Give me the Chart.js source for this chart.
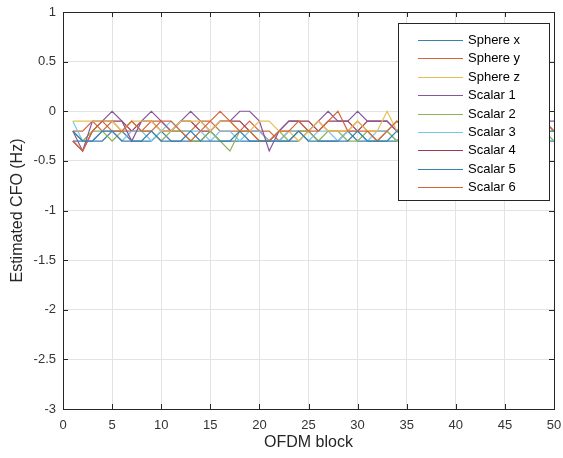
<!DOCTYPE html>
<html>
<head>
<meta charset="utf-8">
<script src="https://cdn.jsdelivr.net/npm/chart.js@4"></script>
<style>
  html, body { margin: 0; padding: 0; background: #fff; }
  #wrap { width: 563px; height: 458px; }
</style>
</head>
<body>
<div id="wrap"><canvas id="chart" width="563" height="458"></canvas></div>
<script>
// x positions: OFDM blocks 1..50
const blocks = [1,2,3,4,5,6,7,8,9,10,11,12,13,14,15,16,17,18,19,20,21,22,23,24,25,
  26,27,28,29,30,31,32,33,34,35,36,37,38,39,40,41,42,43,44,45,46,47,48,49,50];

const seriesNames = ["Sphere x", "Sphere y", "Sphere z", "Scalar 1", "Scalar 2",
  "Scalar 3", "Scalar 4", "Scalar 5", "Scalar 6"];

const sphereX = [-0.2,-0.3,-0.3,-0.2,-0.2,-0.3,-0.3,-0.3,-0.2,-0.3,-0.3,-0.3,-0.2,-0.3,-0.3,-0.3,-0.3,-0.2,-0.3,-0.3,
  -0.3,-0.3,-0.3,-0.2,-0.3,-0.3,-0.3,-0.3,-0.3,-0.2,-0.3,-0.3,-0.3,-0.2,-0.3,-0.3,-0.2,-0.3,-0.3,-0.3,
  -0.2,-0.3,-0.3,-0.3,-0.2,-0.3,-0.3,-0.3,-0.2,-0.2];
const sphereY = [-0.3,-0.4,-0.2,-0.1,-0.2,-0.2,-0.1,-0.2,-0.2,-0.1,-0.1,-0.2,-0.3,-0.2,-0.1,0,-0.1,-0.2,-0.2,-0.3,
  -0.3,-0.2,-0.2,-0.1,-0.2,-0.2,-0.1,0,-0.2,-0.2,-0.2,-0.3,-0.2,-0.1,-0.2,-0.2,-0.1,-0.2,-0.2,-0.3,
  -0.2,-0.2,-0.1,-0.2,-0.2,-0.2,-0.1,-0.2,-0.1,-0.2];
const sphereZ = [-0.1,-0.1,-0.1,-0.1,-0.1,-0.2,-0.1,-0.1,-0.1,-0.2,-0.2,-0.1,-0.1,-0.1,-0.2,-0.1,-0.1,-0.2,-0.2,-0.1,
  -0.1,-0.2,-0.2,-0.3,-0.2,-0.1,-0.2,-0.2,-0.2,-0.1,-0.2,-0.2,0,-0.2,-0.2,-0.2,-0.2,-0.1,-0.2,-0.2,
  -0.2,-0.2,-0.1,-0.2,-0.2,-0.2,-0.2,-0.1,-0.2,-0.2];
const scalar1 = [-0.2,-0.4,-0.1,-0.1,0,-0.1,-0.3,-0.1,0,-0.1,-0.2,-0.1,0,-0.1,-0.2,-0.1,-0.1,0,0,-0.1,
  -0.4,-0.2,-0.1,-0.1,-0.2,-0.1,0,-0.1,-0.1,0,-0.1,-0.1,-0.1,-0.2,-0.1,-0.1,-0.2,-0.1,-0.1,-0.1,
  -0.2,-0.1,-0.1,-0.2,-0.1,-0.1,-0.1,-0.2,-0.1,-0.1];
const scalar2 = [-0.2,-0.3,-0.2,-0.2,-0.3,-0.2,-0.1,-0.2,-0.2,-0.3,-0.2,-0.2,-0.3,-0.3,-0.2,-0.3,-0.4,-0.2,-0.2,-0.3,
  -0.3,-0.2,-0.3,-0.2,-0.2,-0.3,-0.2,-0.2,-0.3,-0.3,-0.2,-0.3,-0.2,-0.3,-0.2,-0.2,-0.3,-0.2,-0.3,-0.2,
  -0.2,-0.3,-0.2,-0.2,-0.3,-0.2,-0.2,-0.3,-0.2,-0.3];
const scalar3 = [-0.1,-0.3,-0.3,-0.2,-0.2,-0.3,-0.2,-0.2,-0.3,-0.2,-0.1,-0.2,-0.2,-0.2,-0.3,-0.2,-0.2,-0.3,-0.2,-0.2,
  -0.3,-0.3,-0.2,-0.2,-0.3,-0.2,-0.2,-0.3,-0.2,-0.2,-0.3,-0.2,-0.2,-0.3,-0.2,-0.2,-0.3,-0.2,-0.2,-0.3,
  -0.2,-0.3,-0.2,-0.2,-0.3,-0.2,-0.2,-0.3,-0.2,-0.3];
const scalar4 = [-0.3,-0.4,-0.2,-0.1,-0.1,-0.1,-0.2,-0.1,-0.1,-0.2,-0.2,-0.1,-0.1,-0.2,-0.2,-0.1,-0.1,-0.1,-0.2,-0.2,
  -0.3,-0.2,-0.1,-0.1,-0.1,-0.2,-0.1,-0.1,-0.1,-0.2,-0.1,-0.1,-0.1,-0.2,-0.1,-0.1,-0.2,-0.1,-0.1,-0.2,
  -0.1,-0.1,-0.1,-0.2,-0.1,-0.1,-0.2,-0.1,-0.1,-0.2];
const scalar5 = [-0.3,-0.3,-0.3,-0.3,-0.2,-0.2,-0.3,-0.3,-0.3,-0.2,-0.3,-0.3,-0.3,-0.3,-0.2,-0.3,-0.3,-0.3,-0.3,-0.3,
  -0.3,-0.3,-0.3,-0.3,-0.2,-0.3,-0.3,-0.3,-0.2,-0.3,-0.3,-0.3,-0.3,-0.3,-0.2,-0.3,-0.3,-0.3,-0.3,-0.2,
  -0.3,-0.3,-0.3,-0.3,-0.3,-0.2,-0.3,-0.3,-0.3,-0.3];
const scalar6 = [-0.2,-0.2,-0.1,-0.2,-0.1,-0.2,-0.2,-0.2,-0.1,-0.1,-0.2,-0.2,-0.2,-0.1,-0.1,-0.2,-0.2,-0.2,-0.1,-0.2,
  -0.2,-0.3,-0.2,-0.2,-0.2,-0.1,-0.2,-0.2,-0.2,-0.1,-0.2,-0.2,-0.2,-0.1,-0.2,-0.2,-0.2,-0.2,-0.1,-0.2,
  -0.2,-0.2,-0.2,-0.1,-0.2,-0.2,-0.2,-0.2,-0.1,-0.2];

const allSeries = [sphereX, sphereY, sphereZ, scalar1, scalar2, scalar3, scalar4, scalar5, scalar6];
// matlab default order, washed out a bit like the picture
const colors = ["#3a80ad", "#d4673a", "#e8bf55", "#86559a", "#8fb25a",
  "#79c8e8", "#9c3a4f", "#3a80ad", "#d4673a"];

const datasets = allSeries.map((vals, i) => ({
  label: seriesNames[i],
  data: vals.map((v, j) => ({ x: blocks[j], y: v })),
  borderColor: colors[i],
  backgroundColor: colors[i],
  borderWidth: 1.2,
  pointRadius: 0,
  fill: false,
  tension: 0,
}));

const axisColor = "#262626";
const fontFam = "'Liberation Sans', Arial, sans-serif";

// box round plot + inward ticks (matlab style)
const boxPlugin = {
  id: "box",
  afterDatasetsDraw(chart) {
    const ctx = chart.ctx;
    const a = chart.chartArea;
    const xs = chart.scales.x;
    const ys = chart.scales.y;
    ctx.save();
    ctx.strokeStyle = axisColor;
    ctx.lineWidth = 1;
    ctx.beginPath();
    xs.ticks.forEach((t) => {
      const px = Math.round(xs.getPixelForValue(t.value)) + 0.5;
      ctx.moveTo(px, a.bottom); ctx.lineTo(px, a.bottom - 5);
      ctx.moveTo(px, a.top); ctx.lineTo(px, a.top + 5);
    });
    ys.ticks.forEach((t) => {
      const py = Math.round(ys.getPixelForValue(t.value)) + 0.5;
      ctx.moveTo(a.left, py); ctx.lineTo(a.left + 5, py);
      ctx.moveTo(a.right, py); ctx.lineTo(a.right - 5, py);
    });
    ctx.stroke();
    ctx.strokeRect(Math.round(a.left) + 0.5, Math.round(a.top) + 0.5,
      Math.round(a.right - a.left), Math.round(a.bottom - a.top));
    ctx.restore();
  },
};

// legend box drawn over the lines, top right
const legendPlugin = {
  id: "boxLegend",
  afterDraw(chart) {
    const ctx = chart.ctx;
    const x0 = 398, y0 = 23, w = 151, h = 177;
    ctx.save();
    ctx.fillStyle = "#fff";
    ctx.fillRect(x0, y0, w, h);
    ctx.strokeStyle = axisColor;
    ctx.lineWidth = 1;
    ctx.strokeRect(x0 + 0.5, y0 + 0.5, w, h);
    ctx.font = "13px " + fontFam;
    ctx.textBaseline = "middle";
    ctx.fillStyle = "#000";
    chart.data.datasets.forEach((ds, i) => {
      const y = Math.round(y0 + 17 + i * 18.4) + 0.5;
      ctx.strokeStyle = ds.borderColor;
      ctx.beginPath();
      ctx.moveTo(x0 + 20, y);
      ctx.lineTo(x0 + 65, y);
      ctx.stroke();
      ctx.fillText(ds.label, x0 + 70, y);
    });
    ctx.restore();
  },
};

const fmt = (v) => String(parseFloat(Number(v).toFixed(2)));

new Chart(document.getElementById("chart"), {
  type: "line",
  data: { datasets: datasets },
  options: {
    responsive: false,
    animation: false,
    layout: { padding: { left: 0, right: 9, top: 12, bottom: 0 } },
    plugins: {
      legend: { display: false },
      tooltip: { enabled: false },
    },
    scales: {
      x: {
        type: "linear",
        min: 0,
        max: 50,
        afterFit: (s) => { s.height = 49; s.paddingLeft = 0; s.paddingRight = 0; },
        grid: { color: "#e3e3e3", drawTicks: false },
        border: { display: false },
        ticks: {
          stepSize: 5,
          padding: 9,
          color: "#333",
          font: { family: fontFam, size: 13 },
          maxRotation: 0,
          callback: fmt,
        },
        title: {
          display: true,
          text: "OFDM block",
          color: "#262626",
          font: { family: fontFam, size: 16 },
          padding: { top: 0, bottom: 6 },
        },
      },
      y: {
        min: -3,
        max: 1,
        afterFit: (s) => { s.width = 63; s.paddingTop = 0; s.paddingBottom = 0; },
        grid: { color: "#e3e3e3", drawTicks: false },
        border: { display: false },
        ticks: {
          stepSize: 0.5,
          padding: 7,
          color: "#333",
          font: { family: fontFam, size: 13 },
          callback: fmt,
        },
        title: {
          display: true,
          text: "Estimated CFO (Hz)",
          color: "#262626",
          font: { family: fontFam, size: 16 },
          padding: { top: 8, bottom: 0 },
        },
      },
    },
  },
  plugins: [boxPlugin, legendPlugin],
});
</script>
</body>
</html>
